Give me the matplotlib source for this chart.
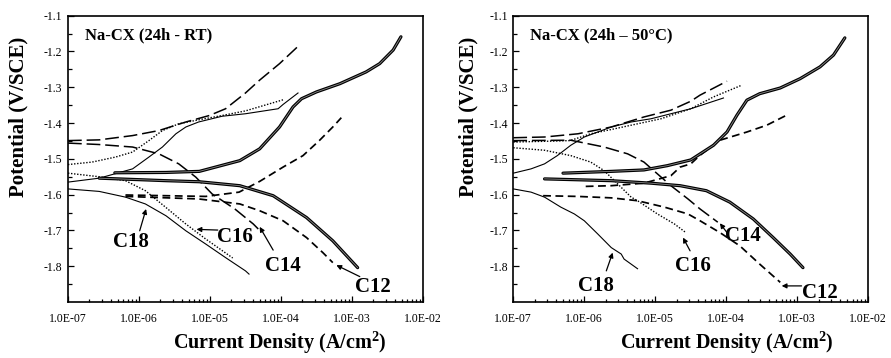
import numpy as np
import matplotlib
matplotlib.use("Agg")
import matplotlib.pyplot as plt
from matplotlib.ticker import FixedLocator, FuncFormatter, LogLocator, NullFormatter

plt.rcParams["font.family"] = ["Liberation Serif", "DejaVu Serif"]
plt.rcParams["axes.unicode_minus"] = False
plt.rcParams["mathtext.fontset"] = "custom"
plt.rcParams["mathtext.rm"] = "Liberation Serif:bold"
plt.rcParams["mathtext.bf"] = "Liberation Serif:bold"

# ---- Polarization data: log10(i / A cm^-2) and potential (V vs SCE) ----
# Panel 1: 24 h, room temperature
rt_blank_an_logi = [-6.34, -5.62, -5.15, -4.58, -4.30, -4.02, -3.83, -3.71, -3.50, -3.17, -2.80, -2.61, -2.42, -2.31]
rt_blank_an_e = [-1.539, -1.538, -1.535, -1.505, -1.472, -1.411, -1.355, -1.332, -1.313, -1.290, -1.257, -1.234, -1.196, -1.159]
rt_blank_ca_logi = [-6.56, -5.62, -5.15, -4.58, -4.11, -3.64, -3.27, -2.92]
rt_blank_ca_e = [-1.554, -1.561, -1.564, -1.575, -1.603, -1.664, -1.729, -1.804]

rt_c12_an_logi = [-6.19, -5.62, -5.06, -4.59, -4.30, -3.97, -3.69, -3.46, -3.27, -3.15]
rt_c12_an_e = [-1.601, -1.603, -1.605, -1.593, -1.563, -1.523, -1.491, -1.449, -1.411, -1.385]
rt_c12_ca_logi = [-6.19, -5.16, -4.58, -4.30, -3.97, -3.64, -3.41, -3.27]
rt_c12_ca_e = [-1.605, -1.612, -1.626, -1.645, -1.673, -1.720, -1.762, -1.790]

rt_c14_an_logi = [-7.00, -6.56, -6.09, -5.72, -5.34, -5.01, -4.78, -4.50, -4.30, -4.02, -3.74]
rt_c14_an_e = [-1.449, -1.447, -1.435, -1.421, -1.397, -1.379, -1.360, -1.316, -1.280, -1.234, -1.182]
rt_c14_ca_logi = [-7.00, -6.56, -6.09, -5.72, -5.44, -5.20, -4.97, -4.65, -4.39, -4.32]
rt_c14_ca_e = [-1.456, -1.460, -1.467, -1.486, -1.514, -1.551, -1.598, -1.640, -1.682, -1.696]

rt_c16_an_logi = [-7.00, -6.66, -6.33, -6.09, -5.86, -5.67, -5.44, -5.16, -4.83, -4.50, -3.97]
rt_c16_an_e = [-1.516, -1.509, -1.495, -1.481, -1.449, -1.421, -1.402, -1.391, -1.379, -1.366, -1.335]
rt_c16_ca_logi = [-7.00, -6.56, -6.19, -5.91, -5.62, -5.34, -5.06, -4.68]
rt_c16_ca_e = [-1.540, -1.550, -1.561, -1.589, -1.636, -1.682, -1.724, -1.777]

rt_c18_an_logi = [-7.00, -6.56, -6.09, -5.86, -5.67, -5.48, -5.34, -5.16, -4.83, -4.50, -4.04, -3.97, -3.76]
rt_c18_an_e = [-1.565, -1.554, -1.528, -1.495, -1.467, -1.430, -1.411, -1.397, -1.381, -1.374, -1.360, -1.348, -1.316]
rt_c18_ca_logi = [-7.00, -6.56, -6.19, -5.91, -5.62, -5.34, -5.06, -4.78, -4.50, -4.45]
rt_c18_ca_e = [-1.584, -1.591, -1.607, -1.626, -1.659, -1.701, -1.738, -1.776, -1.813, -1.822]

# Panel 2: 24 h, 50 °C
ht_blank_an_logi = [-6.30, -5.62, -5.16, -4.83, -4.50, -4.18, -3.99, -3.85, -3.71, -3.53, -3.24, -2.96, -2.68, -2.49, -2.33]
ht_blank_an_e = [-1.540, -1.535, -1.531, -1.519, -1.503, -1.462, -1.425, -1.378, -1.336, -1.318, -1.302, -1.276, -1.243, -1.210, -1.162]
ht_blank_ca_logi = [-6.56, -5.62, -5.06, -4.65, -4.28, -3.95, -3.62, -3.34, -3.10, -2.92]
ht_blank_ca_e = [-1.556, -1.561, -1.568, -1.575, -1.589, -1.621, -1.668, -1.720, -1.766, -1.804]

ht_c12_an_logi = [-5.98, -5.62, -5.16, -4.78, -4.65, -4.50, -4.37, -4.09, -3.71, -3.43, -3.17]
ht_c12_an_e = [-1.577, -1.575, -1.568, -1.547, -1.523, -1.514, -1.490, -1.448, -1.425, -1.406, -1.380]
ht_c12_ca_logi = [-6.58, -6.09, -5.62, -5.25, -4.87, -4.54, -4.37, -4.09, -3.81, -3.53, -3.24]
ht_c12_ca_e = [-1.603, -1.605, -1.609, -1.617, -1.635, -1.654, -1.673, -1.706, -1.743, -1.794, -1.845]

ht_c14_an_logi = [-7.00, -6.56, -6.09, -5.62, -5.16, -4.78, -4.50, -4.37, -3.99]
ht_c14_an_e = [-1.441, -1.439, -1.430, -1.411, -1.383, -1.364, -1.339, -1.322, -1.283]
ht_c14_ca_logi = [-7.00, -6.19, -5.72, -5.39, -5.16, -4.97, -4.78, -4.54, -4.37, -4.12]
ht_c14_ca_e = [-1.449, -1.448, -1.467, -1.486, -1.509, -1.542, -1.575, -1.612, -1.640, -1.677]

ht_c16_an_logi = [-7.00, -6.56, -6.20, -5.91, -5.62, -5.34, -4.92, -4.50, -4.18, -3.78]
ht_c16_an_e = [-1.453, -1.451, -1.449, -1.430, -1.418, -1.406, -1.388, -1.360, -1.327, -1.294]
ht_c16_ca_logi = [-7.00, -6.56, -6.19, -5.91, -5.72, -5.53, -5.34, -5.25, -4.97, -4.73, -4.57]
ht_c16_ca_e = [-1.469, -1.476, -1.491, -1.509, -1.533, -1.570, -1.607, -1.617, -1.654, -1.682, -1.706]

ht_c18_an_logi = [-7.00, -6.75, -6.56, -6.38, -6.19, -6.00, -5.81, -5.62, -5.34, -5.06, -4.78, -4.50, -4.04]
ht_c18_an_e = [-1.540, -1.528, -1.514, -1.491, -1.462, -1.439, -1.425, -1.411, -1.397, -1.388, -1.374, -1.360, -1.330]
ht_c18_ca_logi = [-7.00, -6.75, -6.56, -6.33, -6.14, -6.00, -5.81, -5.62, -5.48, -5.44, -5.25]
ht_c18_ca_e = [-1.584, -1.593, -1.607, -1.635, -1.654, -1.673, -1.710, -1.748, -1.766, -1.780, -1.807]

# Curve labels: (text, label position, arrow tail, arrow head) as (log10 i, E)
rt_labels = [
    ("C18", (-6.11, -1.731), (-5.99, -1.701), (-5.90, -1.640)),
    ("C16", (-4.65, -1.717), (-4.89, -1.699), (-5.19, -1.697)),
    ("C14", (-3.97, -1.799), (-4.11, -1.755), (-4.30, -1.690)),
    ("C12", (-2.70, -1.857), (-2.89, -1.829), (-3.22, -1.797)),
]
ht_labels = [
    ("C18", (-5.84, -1.855), (-5.69, -1.813), (-5.60, -1.762)),
    ("C16", (-4.47, -1.799), (-4.51, -1.757), (-4.61, -1.720)),
    ("C14", (-3.76, -1.715), (-3.99, -1.706), (-4.09, -1.680)),
    ("C12", (-2.68, -1.874), (-2.94, -1.855), (-3.22, -1.855)),
]

panel_titles = ["Na-CX (24h - RT)", "Na-CX (24h \u2013 50\u00b0C)"]
y_ticks = [-1.1, -1.2, -1.3, -1.4, -1.5, -1.6, -1.7, -1.8]

STYLES = {
    "c12": dict(color="black", lw=1.25, linestyle=(0, (4.5, 2.6))),
    "c14": dict(color="black", lw=1.1, linestyle=(0, (9, 3.2))),
    "c16": dict(color="black", lw=1.0, linestyle=(0, (1, 1.2))),
    "c18": dict(color="black", lw=0.8, linestyle="-"),
}


def draw_panel(ax, series, labels, title):
    (ban_x, ban_y, bca_x, bca_y) = series["blank"]
    for xs, ys in ((ban_x, ban_y), (bca_x, bca_y)):
        x = 10.0 ** np.asarray(xs)
        ax.plot(x, ys, color="black", lw=2.3, solid_capstyle="round", zorder=3)
        ax.plot(x, ys, color="#8c8c8c", lw=0.6, zorder=4)
    for key in ("c12", "c14", "c16", "c18"):
        an_x, an_y, ca_x, ca_y = series[key]
        ax.plot(10.0 ** np.asarray(an_x), an_y, zorder=2, **STYLES[key])
        ax.plot(10.0 ** np.asarray(ca_x), ca_y, zorder=2, **STYLES[key])

    for text, pos, tail, head in labels:
        ax.text(10 ** pos[0], pos[1], text, ha="center", va="center",
                fontsize=15, fontweight="bold", zorder=5)
        ax.annotate("", xy=(10 ** head[0], head[1]), xytext=(10 ** tail[0], tail[1]),
                    arrowprops=dict(arrowstyle="-|>", color="black", lw=0.9,
                                    mutation_scale=7, shrinkA=0, shrinkB=0), zorder=5)

    ax.text(0.048, 0.930, title, transform=ax.transAxes, fontsize=12,
            fontweight="bold", ha="left", va="center")

    ax.set_xscale("log")
    ax.set_xlim(1e-7, 1e-2)
    ax.set_ylim(-1.9, -1.1)
    ax.yaxis.set_major_locator(FixedLocator(y_ticks))
    ax.yaxis.set_minor_locator(FixedLocator(np.arange(-1.85, -1.1, 0.1)))
    ax.yaxis.set_major_formatter(FuncFormatter(lambda v, p: f"{v:.1f}"))
    ax.xaxis.set_major_locator(LogLocator(base=10, numticks=10))
    ax.xaxis.set_minor_locator(LogLocator(base=10, subs=np.arange(2, 10), numticks=20))
    ax.xaxis.set_minor_formatter(NullFormatter())
    ax.xaxis.set_major_formatter(FuncFormatter(lambda v, p: f"{v:.1E}"))
    ax.tick_params(axis="both", which="both", direction="in", top=False, right=False,
                   labelsize=8.5, width=0.9)
    ax.tick_params(axis="y", which="major", length=4, pad=4)
    ax.tick_params(axis="y", which="minor", length=3)
    ax.tick_params(axis="x", which="major", length=4, pad=8)
    ax.tick_params(axis="x", which="minor", length=2.5)
    for sp in ax.spines.values():
        sp.set_linewidth(1.2)


fig = plt.figure(figsize=(8.91, 3.58), dpi=100)
ax1 = fig.add_axes([0.0763, 0.1564, 0.3984, 0.7998])
ax2 = fig.add_axes([0.5761, 0.1564, 0.3984, 0.7998])

rt_series = {
    "blank": (rt_blank_an_logi, rt_blank_an_e, rt_blank_ca_logi, rt_blank_ca_e),
    "c12": (rt_c12_an_logi, rt_c12_an_e, rt_c12_ca_logi, rt_c12_ca_e),
    "c14": (rt_c14_an_logi, rt_c14_an_e, rt_c14_ca_logi, rt_c14_ca_e),
    "c16": (rt_c16_an_logi, rt_c16_an_e, rt_c16_ca_logi, rt_c16_ca_e),
    "c18": (rt_c18_an_logi, rt_c18_an_e, rt_c18_ca_logi, rt_c18_ca_e),
}
ht_series = {
    "blank": (ht_blank_an_logi, ht_blank_an_e, ht_blank_ca_logi, ht_blank_ca_e),
    "c12": (ht_c12_an_logi, ht_c12_an_e, ht_c12_ca_logi, ht_c12_ca_e),
    "c14": (ht_c14_an_logi, ht_c14_an_e, ht_c14_ca_logi, ht_c14_ca_e),
    "c16": (ht_c16_an_logi, ht_c16_an_e, ht_c16_ca_logi, ht_c16_ca_e),
    "c18": (ht_c18_an_logi, ht_c18_an_e, ht_c18_ca_logi, ht_c18_ca_e),
}

draw_panel(ax1, rt_series, rt_labels, panel_titles[0])
draw_panel(ax2, ht_series, ht_labels, panel_titles[1])

for xc in (18 / 891, 468 / 891):
    fig.text(xc, 1 - 117 / 358, "Potential (V/SCE)", rotation=90, ha="center",
             va="center", fontsize=15, fontweight="bold")
for xc in (280 / 891, 726.7 / 891):
    fig.text(xc, 2 / 358, r"Current Density (A/cm$^{\mathbf{2}}$)", ha="center",
             va="bottom", fontsize=14.5, fontweight="bold")

fig.savefig("out.png", dpi=100)
